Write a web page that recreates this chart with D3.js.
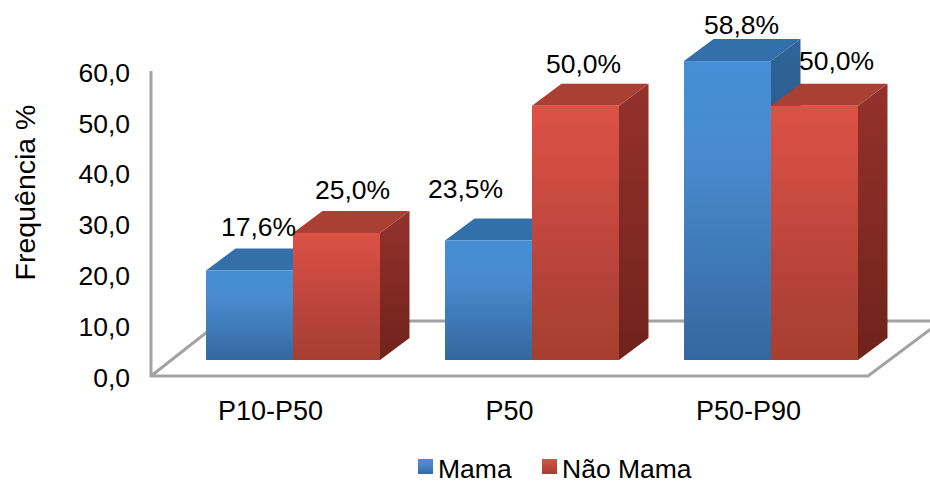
<!DOCTYPE html>
<html><head><meta charset="utf-8">
<script src="https://cdn.jsdelivr.net/npm/d3@7"></script>
<style>html,body{margin:0;padding:0;background:#fff}svg{display:block}text{font-family:"Liberation Sans",Arial,sans-serif;fill:#000}</style>
</head><body><svg id="c" width="930" height="483"></svg>
<script>
const categories = ["P10-P50","P50","P50-P90"];
const seriesNames = ["Mama","Não Mama"];
const mama = [17.6,23.5,58.8];
const naoMama = [25.0,50.0,50.0];
const yTicks = [0,10,20,30,40,50,60];
const yTitle = "Frequência %";

const W=930,H=483,fs=26.5;
const svg=d3.select("#c").attr("viewBox",`0 0 ${W} ${H}`);
const y=d3.scaleLinear().domain([0,60]).range([376,71]);
const x=d3.scaleBand().domain(categories).range([151,868]).paddingInner(0.272).paddingOuter(0.136);
const x1=d3.scaleBand().domain(seriesNames).range([0,x.bandwidth()]);
const barShift=22.5, baseLift=16, dx=29.5, dy=22;
const floorDx=70, floorDy=55;
const num=d3.format(".1f"), comma=s=>s.replace(".",",");

const defs=svg.append("defs");
function grad(id,stops,x2,y2){const g=defs.append("linearGradient").attr("id",id).attr("x1",0).attr("y1",0).attr("x2",x2).attr("y2",y2);
  stops.forEach(([o,c])=>g.append("stop").attr("offset",o).attr("stop-color",c));}
grad("blueF",[[0,"#438fd5"],[.3,"#4a8bd0"],[.65,"#3f7ab8"],[1,"#33689f"]],0,1);
grad("redF",[[0,"#dc5145"],[.3,"#cc4b41"],[.7,"#b4423a"],[1,"#a63f30"]],0,1);
grad("blueS",[[0,"#2f6498"],[1,"#234d78"]],0,1);
grad("redS",[[0,"#95312b"],[1,"#6f231b"]],0,1);

// floor and axis
const axisCol="#a3a3a3";
const clip=defs.append("clipPath").attr("id","pg");clip.append("rect").attr("width",W).attr("height",H);
const fl=svg.append("g").attr("clip-path","url(#pg)").attr("fill","none").attr("stroke",axisCol).attr("stroke-width",3);
const x0=x.range()[0], xe=x.range()[1], yb=y(0);
fl.append("path").attr("d",`M${x0},${y(60)}V${yb}H${xe}L${xe+floorDx},${yb-floorDy*.95}`);
fl.append("path").attr("d",`M${x0},${yb}L${x0+floorDx},${yb-floorDy}H${xe+floorDx+20}`);

// y axis labels
const ya=svg.append("g").attr("transform",`translate(${x0-2},1)`).call(d3.axisLeft(y).tickValues(yTicks).tickSize(0).tickPadding(19).tickFormat(d=>comma(num(d))));
ya.select(".domain").remove();
ya.attr("font-family",null);
ya.selectAll("text").attr("font-size",fs).attr("dy","0.35em");

// bars
const all=[mama,naoMama];
const fills=[["url(#blueF)","#336fa9","url(#blueS)"],["url(#redF)","#aa3f33","url(#redS)"]];
categories.forEach((c,i)=>{
  seriesNames.forEach((s,k)=>{
    const v=all[k][i];
    const l=x(c)+barShift+x1(s), r=l+x1.bandwidth();
    const t=y(v)-baseLift, b=y(0)-baseLift;
    const g=svg.append("g").attr("class","bar");
    g.append("path").attr("fill",fills[k][2]).attr("d",`M${r},${t}L${r+dx},${t-dy}V${b-dy}L${r},${b}Z`);
    g.append("path").attr("fill",fills[k][1]).attr("d",`M${l},${t}L${l+dx},${t-dy}H${r+dx}L${r},${t}Z`);
    g.append("rect").attr("x",l).attr("y",t).attr("width",r-l).attr("height",b-t).attr("fill",fills[k][0]);
  });
});
// value labels (hand-placed nudges, as in the reference: [series][category] => [dx,dy])
const nudge=[[[1,-2],[-31,-10],[6,6]],[[8,-1],[0,0],[14,-3]]];
categories.forEach((c,i)=>seriesNames.forEach((s,k)=>{
  const v=all[k][i];
  const l=x(c)+barShift+x1(s);
  svg.append("text").attr("text-anchor","middle").attr("font-size",fs)
    .attr("x",l+x1.bandwidth()/2+8+nudge[k][i][0]).attr("y",y(v)-baseLift-dy-11+nudge[k][i][1])
    .text(comma(num(v))+"%");
}));
// category labels
const xa=svg.append("g").attr("transform",`translate(0,${yb})`).call(d3.axisBottom(x).tickSize(0).tickPadding(25));
xa.select(".domain").remove();
xa.attr("font-family",null);
xa.selectAll("text").attr("font-size",27);
// title
svg.append("text").attr("transform","translate(34.5,192.5) rotate(-90)").attr("text-anchor","middle").attr("font-size",28.5).text(yTitle);
// legend
const lx=[418,542], tx=[438,562], legY=-3;
seriesNames.forEach((s,k)=>{
  svg.append("rect").attr("x",lx[k]).attr("y",462+legY).attr("width",15).attr("height",15).attr("fill",k?"url(#redF)":"url(#blueF)");
  svg.append("text").attr("x",tx[k]).attr("y",481+legY).attr("font-size",fs).text(s);
});
</script></body></html>
